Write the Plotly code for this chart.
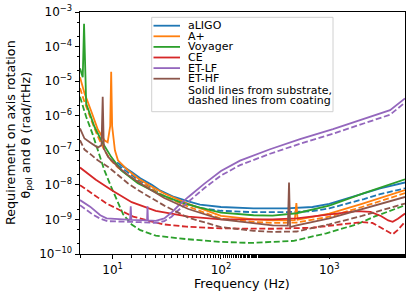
import plotly.graph_objects as go

# ---------------- data ----------------
aligo_sub_f = [11, 12, 15, 18, 23, 27, 37, 50, 64, 100, 200, 400, 700, 1000, 1460, 2090, 2950, 5000]
aligo_sub = [4.4e-8, 3.7e-8, 2.34e-8, 1.55e-8, 1.0e-8, 7.08e-9, 4.47e-9, 3.31e-9, 2.69e-9, 2.29e-9,
             2.09e-9, 2.09e-9, 2.29e-9, 2.82e-9, 3.98e-9, 5.62e-9, 7.94e-9, 1.17e-8]
aligo_coat_f = [11, 12, 15, 18, 23, 27, 37, 50, 64, 100, 200, 400, 700, 1000, 1460, 2090, 2950, 5000]
aligo_coat = [3.8e-8, 3.2e-8, 1.91e-8, 1.26e-8, 7.94e-9, 5.62e-9, 3.55e-9, 2.63e-9, 2.14e-9, 1.78e-9,
              1.62e-9, 1.62e-9, 1.74e-9, 2.09e-9, 2.82e-9, 3.89e-9, 5.37e-9, 7.94e-9]

aplus_sub_f = [5, 5.5, 6.4, 7.3, 8.4, 9.0, 9.5, 9.7, 9.9, 10.5, 11.2, 13.9, 17.1, 22, 30, 50, 100, 200,
               300, 480, 497, 510, 1000, 2000, 5000]
aplus_sub = [1.29e-5, 4.5e-6, 1.26e-6, 3.98e-7, 1.95e-7, 1.7e-7, 5.0e-7, 1.86e-5, 5.0e-7, 1.0e-7,
             5.13e-8, 2.63e-8, 1.55e-8, 9.55e-9, 5.62e-9, 2.82e-9, 1.26e-9, 1.0e-9,
             9.33e-10, 9.55e-10, 2.95e-9, 9.77e-10, 1.48e-9, 2.82e-9, 7.08e-9]
aplus_coat_f = [5, 5.5, 6.4, 7.3, 8.4, 9.7, 11.2, 13.9, 17.1, 22, 30, 50, 100, 200, 300, 500, 1000, 2000, 5000]
aplus_coat = [6.31e-6, 2.51e-6, 7.08e-7, 2.51e-7, 1.0e-7, 5.01e-8, 3.16e-8, 1.91e-8, 1.26e-8, 7.94e-9,
              4.68e-9, 2.34e-9, 1.05e-9, 8.51e-10, 7.94e-10, 8.13e-10, 1.2e-9, 2.29e-9, 5.75e-9]

voy_sub_f = [5, 5.3, 5.45, 5.6, 5.7, 6.8, 8.1, 9.7, 12, 17.1, 27, 42, 64, 100, 200, 300, 500, 1000, 2090, 5000]
voy_sub = [2.34e-5, 1.3e-5, 4.57e-4, 3.98e-6, 2.24e-6, 4.79e-7, 1.62e-7, 6.46e-8, 2.63e-8, 1.12e-8,
           5.37e-9, 3.16e-9, 2.19e-9, 1.58e-9, 1.32e-9, 1.29e-9, 1.51e-9, 2.51e-9, 5.75e-9, 1.45e-8]
voy_coat_f = [5, 5.7, 6.5, 7.4, 8.4, 9.7, 11, 12.5, 15, 18, 25, 48, 100, 190, 470, 940, 1800, 2600, 5000]
voy_coat = [3.55e-6, 9.33e-7, 3.09e-7, 8.32e-8, 2.63e-8, 8.71e-9, 3.63e-9, 1.41e-9, 7.08e-10, 4.9e-10,
            3.39e-10, 2.69e-10, 2.24e-10, 2.09e-10, 2.4e-10, 3.98e-10, 7.24e-10, 1.2e-9, 2.57e-9]

ce_sub_f = [5, 7, 10, 15, 25, 50, 100, 300, 500, 1000, 1800, 2400, 3000, 3500, 3850, 4300, 5000]
ce_sub = [3.16e-8, 1.41e-8, 6.76e-9, 3.16e-9, 1.78e-9, 1.2e-9, 1.0e-9, 1.0e-9, 1.07e-9, 1.38e-9,
          1.74e-9, 1.66e-9, 1.26e-9, 9.33e-10, 8.51e-10, 1.05e-9, 1.48e-9]
ce_coat_f = [5, 8.8, 15.5, 29, 48, 100, 300, 700, 1400, 2000, 2500, 2900, 3850, 4300, 5000]
ce_coat = [9.77e-9, 2.88e-9, 1.2e-9, 7.24e-10, 6.17e-10, 5.5e-10, 5.37e-10, 5.75e-10, 7.41e-10,
           8.32e-10, 7.94e-10, 6.03e-10, 3.72e-10, 5.01e-10, 8.51e-10]

etlf_sub_f = [5, 6.2, 7.7, 8.8, 12.5, 14.5, 14.7, 14.9, 18, 20.8, 21, 21.2, 25, 30, 35, 40, 50, 70, 100,
              150, 284, 537, 1083, 2232, 3640, 5000]
etlf_sub = [3.63e-9, 2.34e-9, 1.32e-9, 1.07e-9, 1.0e-9, 9.8e-10, 2.4e-9, 9.77e-10, 9.55e-10, 9.4e-10,
            2.4e-9, 9.33e-10, 9.12e-10, 1.07e-9, 1.58e-9, 2.4e-9, 4.47e-9, 1.07e-8, 2.51e-8,
            5.01e-8, 1.07e-7, 2.09e-7, 4.07e-7, 8.51e-7, 1.45e-6, 3.16e-6]
etlf_coat_f = [5, 6.5, 7.7, 9, 18, 25, 30, 35, 40, 50, 70, 100, 150, 284, 537, 1083, 2232, 3640, 5000]
etlf_coat = [2.57e-9, 1.41e-9, 1.05e-9, 8.91e-10, 8.32e-10, 7.94e-10, 8.91e-10, 1.2e-9, 1.78e-9,
             3.31e-9, 7.94e-9, 1.86e-8, 3.72e-8, 7.94e-8, 1.55e-7, 3.02e-7, 6.31e-7, 1.07e-6, 2.4e-6]

ethf_sub_f = [5, 5.5, 6.4, 7.3, 7.9, 8.1, 8.3, 9.1, 11.2, 13.9, 17.1, 20, 30, 50, 100, 200, 300, 415,
              425, 435, 500, 1000, 2000, 5000]
ethf_sub = [4.27e-7, 2.19e-7, 1.58e-7, 1.2e-7, 1.41e-7, 3.55e-6, 1.12e-7, 6.46e-8, 3.31e-8, 1.91e-8,
            1.23e-8, 8.91e-9, 4.17e-9, 2.0e-9, 1.0e-9, 7.59e-10, 6.76e-10, 6.6e-10,
            1.17e-8, 6.0e-10, 6.76e-10, 1.07e-9, 2.0e-9, 4.47e-9]
ethf_coat_f = [5, 5.5, 6.4, 7.3, 9.1, 11.2, 13.9, 17.1, 30, 50, 100, 200, 300, 500, 1000, 2000, 5000]
ethf_coat = [1.95e-7, 1.05e-7, 7.24e-8, 5.13e-8, 3.31e-8, 1.91e-8, 1.1e-8, 7.08e-9, 2.51e-9, 1.12e-9,
             6.03e-10, 4.68e-10, 4.37e-10, 4.47e-10, 7.24e-10, 1.26e-9, 2.88e-9]

names = ["aLIGO", "A+", "Voyager", "CE", "ET-LF", "ET-HF"]
colors = ["#1f77b4", "#ff7f0e", "#2ca02c", "#d62728", "#9467bd", "#8c564b"]
note_lines = ["Solid lines from substrate,", "dashed lines from coating"]
x_tickvals = [10, 100, 1000]
x_ticktext = ["10<sup>1</sup>", "10<sup>2</sup>", "10<sup>3</sup>"]
y_tickvals = [1e-10, 1e-9, 1e-8, 1e-7, 1e-6, 1e-5, 1e-4, 1e-3]
y_ticktext = ["10<sup>\u221210</sup>", "10<sup>\u22129</sup>", "10<sup>\u22128</sup>", "10<sup>\u22127</sup>",
              "10<sup>\u22126</sup>", "10<sup>\u22125</sup>", "10<sup>\u22124</sup>", "10<sup>\u22123</sup>"]

series = [
    (aligo_sub_f, aligo_sub, aligo_coat_f, aligo_coat),
    (aplus_sub_f, aplus_sub, aplus_coat_f, aplus_coat),
    (voy_sub_f, voy_sub, voy_coat_f, voy_coat),
    (ce_sub_f, ce_sub, ce_coat_f, ce_coat),
    (etlf_sub_f, etlf_sub, etlf_coat_f, etlf_coat),
    (ethf_sub_f, ethf_sub, ethf_coat_f, ethf_coat),
]

# ---------------- figure ----------------
W, H = 415, 296
ML, MR, MT, MB = 80, 10, 12, 42
PW, PH = W - ML - MR, H - MT - MB

def px(xp):
    return (xp - ML) / PW

def py(yp):
    return (H - MB - yp) / PH

FONT = "DejaVu Sans"
fig = go.Figure()
LW = 1.8
for (sf, sv, cf, cv), name, col in zip(series, names, colors):
    fig.add_trace(go.Scatter(x=sf, y=sv, mode="lines", name=name,
                             line=dict(color=col, width=LW), showlegend=False))
    fig.add_trace(go.Scatter(x=cf, y=cv, mode="lines", name=name + " coating",
                             line=dict(color=col, width=LW, dash="6px,2.6px"), showlegend=False))

axis_common = dict(
    type="log", showgrid=False, zeroline=False, showline=True, linecolor="black",
    linewidth=1, mirror=True, ticks="outside", ticklen=4.4, tickwidth=1, tickcolor="black",
    automargin=False, tickfont=dict(family=FONT, size=12, color="black"),
    minor=dict(ticks="outside", ticklen=2.5, tickwidth=0.75, tickcolor="black", showgrid=False),
)
fig.update_xaxes(range=[0.69897, 3.69897], tickmode="array", tickvals=x_tickvals, ticktext=x_ticktext,
                 **axis_common)
fig.update_yaxes(range=[-10, -3], tickmode="array", tickvals=y_tickvals, ticktext=y_ticktext,
                 **axis_common)

shapes = []
annotations = []
# legend box
shapes.append(dict(type="rect", xref="paper", yref="paper",
                   x0=px(151.7), x1=px(333), y0=py(111.7), y1=py(17.3),
                   line=dict(color="#d0d0d0", width=1), fillcolor="rgba(255,255,255,0.85)"))
y0 = 25.7
step = 10.6
for i, (name, col) in enumerate(zip(names, colors)):
    yy = y0 + i * step
    shapes.append(dict(type="line", xref="paper", yref="paper",
                       x0=px(153.5), x1=px(180), y0=py(yy), y1=py(yy),
                       line=dict(color=col, width=LW)))
    annotations.append(dict(xref="paper", yref="paper", x=px(186), y=py(yy), text=name,
                            showarrow=False, xanchor="left", yanchor="middle",
                            font=dict(family=FONT, size=11, color="black")))
for j, t in enumerate(note_lines):
    yy = y0 + (6 + j) * step + 0.8
    annotations.append(dict(xref="paper", yref="paper", x=px(186), y=py(yy), text=t,
                            showarrow=False, xanchor="left", yanchor="middle",
                            font=dict(family=FONT, size=11, color="black")))

# axis titles
annotations.append(dict(xref="paper", yref="paper", x=px(10), y=py(133), text="Requirement on axis rotation",
                        textangle=-90, showarrow=False, xanchor="center", yanchor="middle",
                        font=dict(family=FONT, size=12.7, color="black")))
annotations.append(dict(xref="paper", yref="paper", x=px(25.5), y=py(135), text="θ<sub>pol</sub> and θ (rad/rtHz)",
                        textangle=-90, showarrow=False, xanchor="center", yanchor="middle",
                        font=dict(family=FONT, size=12.7, color="black")))
annotations.append(dict(xref="paper", yref="paper", x=px(242), y=py(283), text="Frequency (Hz)",
                        showarrow=False, xanchor="center", yanchor="middle",
                        font=dict(family=FONT, size=12.7, color="black")))

fig.update_layout(width=W, height=H, margin=dict(l=ML, r=MR, t=MT, b=MB, autoexpand=False),
                  plot_bgcolor="white", paper_bgcolor="white", showlegend=False,
                  shapes=shapes, annotations=annotations)
fig.write_html("out.html", config={"displayModeBar": False},
               post_script="document.body.style.margin='0px';")
